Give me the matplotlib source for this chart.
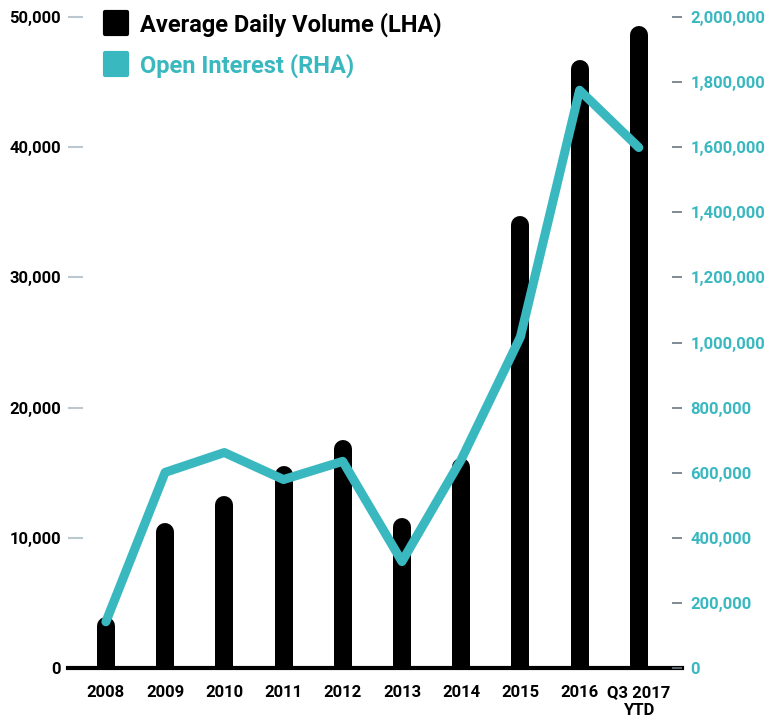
import matplotlib.pyplot as plt
from matplotlib.lines import Line2D
from matplotlib.markers import MarkerStyle

years = ["2008", "2009", "2010", "2011", "2012", "2013", "2014", "2015", "2016", "Q3 2017\nYTD"]
volume = [3900, 11100, 13200, 15500, 17500, 11500, 16100, 34700, 46700, 49300]
open_interest = [142000, 601000, 662000, 579000, 635000, 327000, 640000, 1017000, 1775000, 1599000]
vol_ticks = [0, 10000, 20000, 30000, 40000, 50000]
oi_ticks = [0, 200000, 400000, 600000, 800000, 1000000, 1200000, 1400000, 1600000, 1800000, 2000000]

TEAL = "#3ab8c0"
FONT = "Roboto"

fig = plt.figure(figsize=(7.71, 7.21), dpi=100)
ax = fig.add_axes([0.0882, 0.0735, 0.7964, 0.9029])
ax2 = ax.twinx()

x = list(range(len(years)))
ax.set_xlim(-0.64, 9.73)
ax.set_ylim(0, 50000)
ax2.set_ylim(0, 2000000)

# bars as thick lines with round caps; subtract cap radius so top = value
bar_px = 18
cap = bar_px / 2 * (50000 / (0.9029 * 721))
ax.vlines(x, -cap * 3, [v - cap for v in volume], color="black",
          linewidth=bar_px * 0.72, capstyle="round", zorder=2)

ax2.plot(x, open_interest, color=TEAL, linewidth=6.5,
         solid_joinstyle="round", solid_capstyle="round", zorder=3)

for a in (ax, ax2):
    for s in ("left", "right", "top"):
        a.spines[s].set_visible(False)
ax2.spines["bottom"].set_visible(False)
ax.spines["bottom"].set_linewidth(3)
ax.spines["bottom"].set_color("black")
ax.spines["bottom"].set_zorder(5)

ax.set_yticks(vol_ticks)
ax.set_yticklabels([f"{v:,}" for v in vol_ticks])
ax.tick_params(axis="y", direction="in", length=11, width=1.5, color="#bcc8d0",
               pad=5, labelsize=12, labelcolor="black")
ax2.set_yticks(oi_ticks)
ax2.set_yticklabels([f"{v:,}" for v in oi_ticks])
ax2.tick_params(axis="y", direction="in", length=7, width=1.2, color="#6b7780",
                pad=6, labelsize=12, labelcolor=TEAL)

ax.set_xticks(x)
ax.set_xticklabels(years, linespacing=1.25)
ax.tick_params(axis="x", length=0, pad=12, labelsize=12)

for lbl in ax.get_xticklabels() + ax.get_yticklabels() + ax2.get_yticklabels():
    lbl.set_fontfamily(FONT)
    lbl.set_fontweight("bold")

sq = MarkerStyle("s", joinstyle="round")
handles = [
    Line2D([], [], linestyle="none", marker=sq, markersize=16, markerfacecolor="black",
           markeredgecolor="black", markeredgewidth=3),
    Line2D([], [], linestyle="none", marker=sq, markersize=16, markerfacecolor=TEAL,
           markeredgecolor=TEAL, markeredgewidth=3),
]
leg = ax2.legend(handles, ["Average Daily Volume (LHA)", "Open Interest (RHA)"],
                 loc="upper left", bbox_to_anchor=(0.02, 1.04), frameon=False,
                 prop={"family": FONT, "weight": "bold", "size": 17},
                 handlelength=1.2, handletextpad=0.42, labelspacing=0.7)
leg.get_texts()[0].set_color("black")
leg.get_texts()[1].set_color(TEAL)

fig.savefig("out.png", dpi=100)
